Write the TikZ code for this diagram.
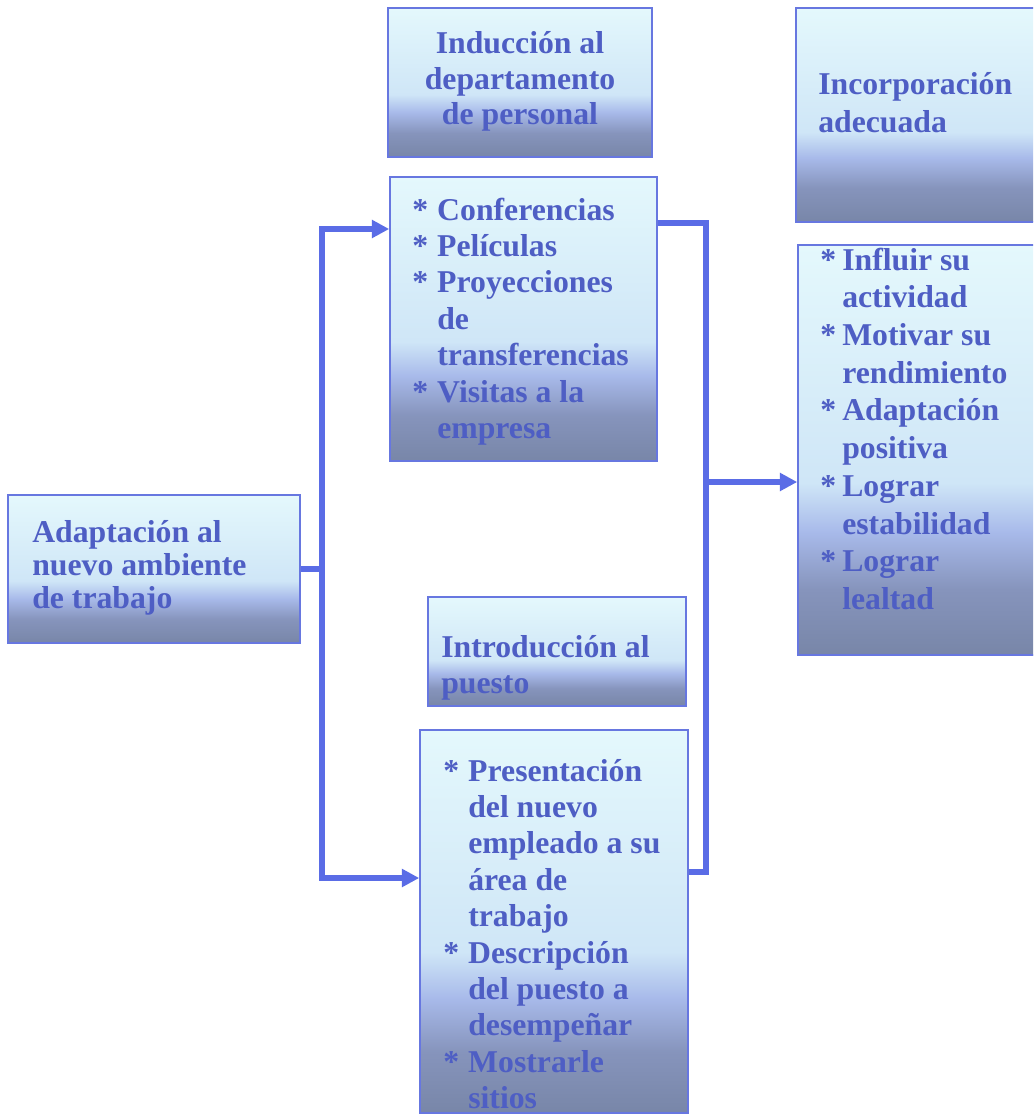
\documentclass[tikz,border=0pt]{standalone}
\usepackage{fontspec}
\setmainfont{Liberation Serif}
\usetikzlibrary{arrows.meta}

\definecolor{linkblue}{HTML}{5A6CE6}
\definecolor{edgeblue}{HTML}{6777E0}
\definecolor{inkblue}{HTML}{4E5EC4}
\definecolor{shTop}{HTML}{E4F8FC}
\definecolor{shUp}{HTML}{CFE6F7}
\definecolor{shMid}{HTML}{A8BAEA}
\definecolor{shLow}{HTML}{8694BC}
\definecolor{shBot}{HTML}{7886A8}

% light cyan at the top, a blue band, grey-blue at the foot
\pgfdeclareverticalshading{panelshade}{100bp}{%
  color(0bp)=(shBot); color(25bp)=(shBot); color(33bp)=(shLow);
  color(40bp)=(shMid); color(46bp)=(shUp); color(75bp)=(shTop);
  color(100bp)=(shTop)}

\newcommand{\itemstar}{{*}}

\tikzset{
  panel/.style={draw=edgeblue, line width=1.2pt, shading=panelshade,
    inner sep=0pt},
  txt/.style={text=inkblue, inner sep=0pt,
    font=\fontsize{23.8}{27.3}\selectfont\bfseries},
  link/.style={draw=linkblue, line width=4.4pt},
  tip/.style={-{Triangle[length=13pt,width=13pt]}},
}

\begin{document}
\begin{tikzpicture}[x=0.75pt, y=-0.75pt]
\useasboundingbox (0,0) rectangle (1033,1116);
\clip (0,0) rectangle (1033,1116);
\fill[white] (0,0) rectangle (1033,1116);

% boxes
\node[panel, minimum width=198pt,   minimum height=111.75pt] (indA) at (520,82.5) {};
\node[panel, minimum width=200.25pt, minimum height=213pt]    (lstB) at (523.5,319) {};
\node[panel, minimum width=180pt,   minimum height=160.5pt]  (incC) at (916,115) {};
\node[panel, minimum width=178.5pt, minimum height=307.5pt]  (lstD) at (917,450) {};
\node[panel, minimum width=219pt,   minimum height=111pt]    (adpE) at (154,569) {};
\node[panel, minimum width=193.5pt, minimum height=81.75pt]  (intF) at (557,651.5) {};
\node[panel, minimum width=201pt,   minimum height=287.25pt] (lstG) at (554,921.5) {};

% texts
\node[txt, anchor=base, font=\fontsize{23.8}{26.6}\selectfont\bfseries] (tA) at (520,54)
  {\begin{tabular}[t]{@{}c@{}}Inducción al\\departamento\\de personal\end{tabular}};

\node[txt, anchor=base west] (tB) at (412,220)
  {\begin{tabular}[t]{@{}p{18.75pt}@{}l@{}}
   \itemstar&Conferencias\\ \itemstar&Películas\\ \itemstar&Proyecciones\\
   &de\\ &transferencias\\
   \itemstar&Visitas a la\\ &empresa\end{tabular}};

\node[txt, anchor=base west, font=\fontsize{23.8}{28.3}\selectfont\bfseries] (tC) at (818,95)
  {\begin{tabular}[t]{@{}l@{}}Incorporación\\adecuada\end{tabular}};

\node[txt, anchor=base west, font=\fontsize{23.8}{28.3}\selectfont\bfseries] (tD) at (820,270)
  {\begin{tabular}[t]{@{}p{16.5pt}@{}l@{}}
   \itemstar&Influir su\\ &actividad\\ \itemstar&Motivar su\\ &rendimiento\\
   \itemstar&Adaptación\\ &positiva\\ \itemstar&Lograr\\ &estabilidad\\
   \itemstar&Lograr\\ &lealtad\end{tabular}};

\node[txt, anchor=base west, font=\fontsize{23.8}{24.75}\selectfont\bfseries] (tE) at (32,542)
  {\begin{tabular}[t]{@{}l@{}}Adaptación al\\nuevo ambiente\\de trabajo\end{tabular}};

\node[txt, anchor=base west] (tF) at (441,657)
  {\begin{tabular}[t]{@{}l@{}}Introducción al\\puesto\end{tabular}};

\node[txt, anchor=base west] (tG) at (443,781)
  {\begin{tabular}[t]{@{}p{18.75pt}@{}l@{}}
   \itemstar&Presentación\\ &del nuevo\\ &empleado a su\\ &área de\\ &trabajo\\
   \itemstar&Descripción\\ &del puesto a\\ &desempeñar\\
   \itemstar&Mostrarle\\ &sitios\end{tabular}};

% connectors
\coordinate (topL) at (322,229);
\coordinate (botL) at (322,878);
\coordinate (topR) at (706,223);
\coordinate (botR) at (706,872);
\coordinate (midR) at (706,482);

\draw[link] (adpE.east) -- (adpE.east -| topL);
\draw[link, {Triangle[length=13pt,width=13pt]}-{Triangle[length=13pt,width=13pt]}]
  (topL -| lstB.west) -- (topL) -- (botL) -- (botL -| lstG.west);
\draw[link] (lstB.east |- topR) -- (topR) -- (botR) -- (botR -| lstG.east);
\draw[link, tip] (midR) -- (midR -| lstD.west);
\end{tikzpicture}
\end{document}
